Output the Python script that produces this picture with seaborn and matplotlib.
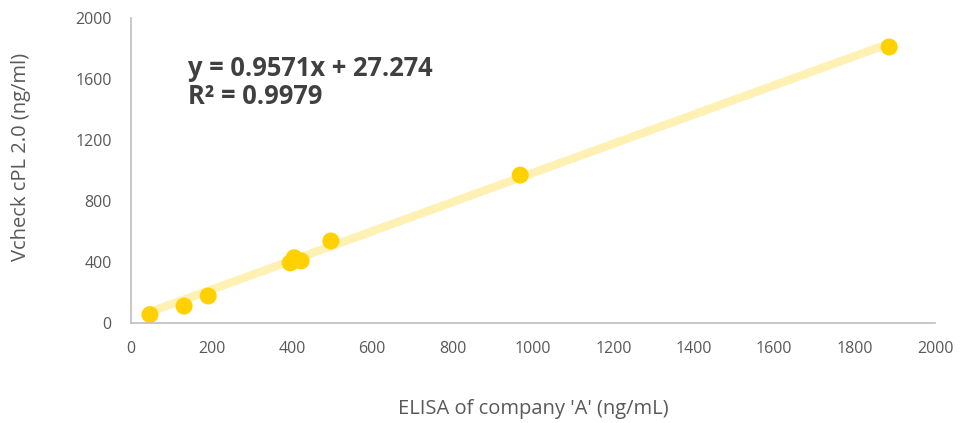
import numpy as np
import pandas as pd
import matplotlib.pyplot as plt
import seaborn as sns

# values
elisa = [47, 132, 192, 396, 406, 423, 497, 968, 1886]
vcheck = [55, 111, 177, 394, 428, 407, 538, 970, 1810]
slope = 0.9571
intercept = 27.274
r2 = 0.9979
xticks = [0, 200, 400, 600, 800, 1000, 1200, 1400, 1600, 1800, 2000]
yticks = [0, 400, 800, 1200, 1600, 2000]

df = pd.DataFrame({"x": elisa, "y": vcheck})

sns.set_style("white")
plt.rcParams['font.family'] = ['Open Sans', 'DejaVu Sans']

fig = plt.figure(figsize=(9.6, 4.23), dpi=100)
ax = fig.add_axes([0.1365, 0.2364, 0.8375, 0.721])

# linear trendline over data range
xs = np.array([min(elisa), max(elisa)])
ax.plot(xs, slope * xs + intercept, color='#FFF0B3', linewidth=6, solid_capstyle='butt', zorder=1)
sns.scatterplot(data=df, x="x", y="y", ax=ax, color='#FFD100', s=150, edgecolor='none', zorder=2)

ax.set_xlim(0, 2000)
ax.set_ylim(0, 2000)
ax.set_xticks(xticks)
ax.set_yticks(yticks)
ax.tick_params(axis='both', length=0, labelsize=11.5, colors='#595959')
ax.tick_params(axis='y', pad=14)
ax.tick_params(axis='x', pad=13)
for s in ['top', 'right']:
    ax.spines[s].set_visible(False)
for s in ['left', 'bottom']:
    ax.spines[s].set_color('#BFBFBF')
    ax.spines[s].set_linewidth(1.2)

ax.set_xlabel("ELISA of company 'A' (ng/mL)", fontsize=14.5, color='#595959')
ax.set_ylabel("Vcheck cPL 2.0 (ng/ml)", fontsize=14.5, color='#595959')
ax.xaxis.set_label_coords(0.5, -0.25)
ax.yaxis.set_label_coords(-0.125, 0.544)

ax.text(0.071, 0.79, f"y = {slope}x + {intercept}\nR² = {r2}",
        transform=ax.transAxes, fontsize=18.4, fontweight='bold', color='#404040',
        va='center', ha='left', linespacing=1.05)

fig.savefig("out.png", dpi=100)
